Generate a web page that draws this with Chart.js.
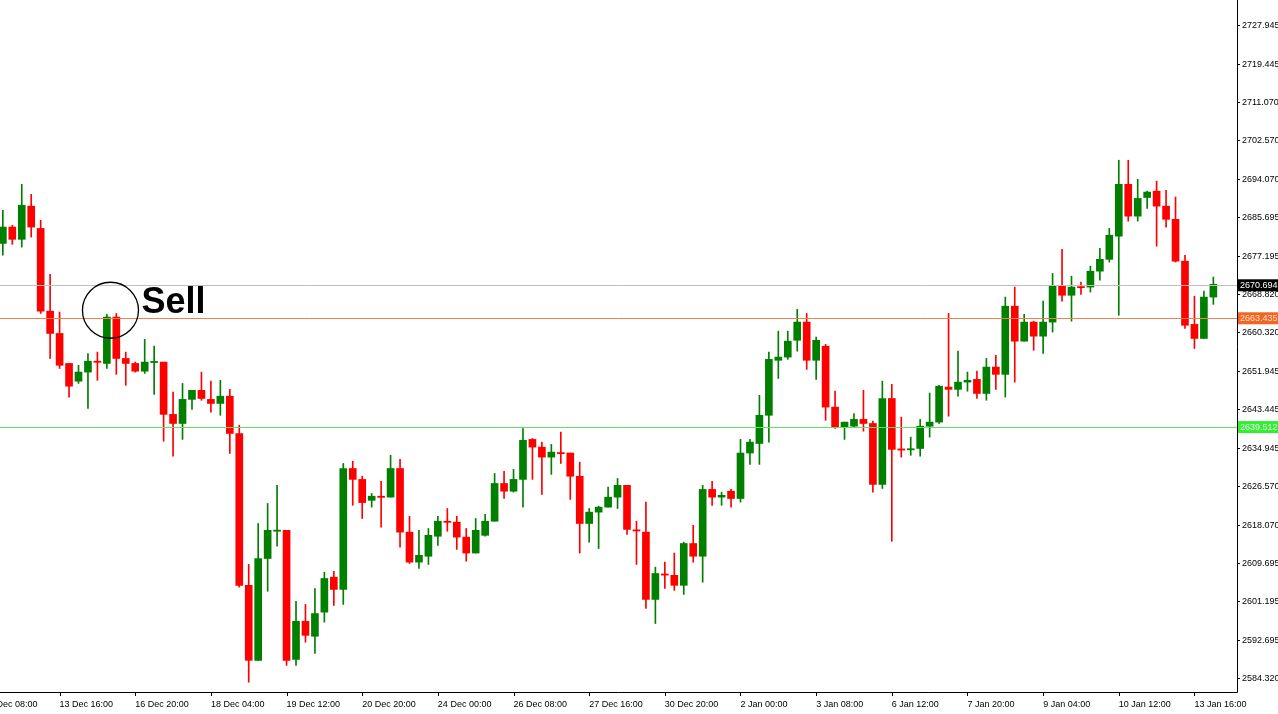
<!DOCTYPE html>
<html><head><meta charset="utf-8">
<script src="https://cdn.jsdelivr.net/npm/chart.js@4.4.0/dist/chart.umd.min.js"></script>
<style>html,body{margin:0;padding:0;background:#fff;overflow:hidden}canvas{display:block}</style>
</head><body>
<canvas id="c" width="1278" height="714"></canvas>
<script>
// Candle data (XAU/USD H4)
const opens  = [2679.9,2683.5,2680.8,2688.1,2683.2,2665.0,2660.1,2653.5,2649.6,2651.6,2654.0,2653.5,2663.7,2654.6,2653.5,2651.8,2653.7,2653.8,2642.3,2640.3,2645.6,2647.6,2645.6,2644.7,2646.3,2638.1,2604.7,2588.2,2610.6,2616.6,2616.8,2588.4,2596.8,2593.5,2598.8,2606.5,2603.8,2630.4,2628.0,2623.4,2624.3,2624.1,2630.4,2616.4,2609.8,2611.1,2615.5,2618.8,2618.6,2615.3,2611.8,2615.7,2618.8,2627.1,2625.4,2628.0,2636.8,2635.1,2632.9,2633.9,2633.8,2628.7,2618.3,2620.8,2621.9,2624.1,2626.7,2616.9,2616.4,2601.6,2607.2,2606.9,2604.7,2613.9,2611.1,2625.8,2624.1,2625.4,2623.8,2633.8,2635.9,2642.1,2654.2,2654.9,2658.6,2662.6,2654.2,2657.3,2643.9,2639.5,2639.7,2641.2,2640.3,2626.9,2645.8,2634.7,2634.5,2634.8,2639.7,2640.6,2648.3,2647.8,2649.4,2650.0,2646.9,2652.7,2651.1,2666.1,2658.4,2662.6,2659.5,2662.6,2670.5,2668.5,2670.4,2670.3,2673.8,2676.4,2681.5,2692.9,2685.9,2690.0,2691.4,2688.1,2685.2,2676.0,2662.1,2659.0,2668.1];
const highs  = [2687.2,2683.9,2692.9,2690.7,2685.0,2673.1,2664.8,2653.5,2653.1,2655.7,2656.0,2664.3,2664.5,2656.0,2653.8,2658.8,2657.3,2653.8,2647.2,2649.1,2647.6,2651.6,2649.6,2649.8,2647.8,2639.9,2609.3,2618.3,2622.7,2626.7,2616.8,2601.2,2600.5,2604.0,2607.6,2607.8,2631.5,2632.0,2628.7,2624.9,2627.6,2633.3,2632.4,2619.9,2616.8,2617.2,2619.9,2621.6,2619.9,2617.2,2619.4,2620.3,2629.3,2629.8,2630.2,2639.2,2637.0,2636.2,2635.7,2638.4,2633.8,2631.8,2621.6,2622.1,2626.3,2628.2,2626.7,2618.8,2623.0,2608.7,2609.8,2611.8,2614.2,2617.9,2626.7,2627.6,2625.2,2625.8,2636.8,2636.8,2646.5,2656.0,2660.6,2660.6,2665.4,2664.5,2659.3,2657.7,2647.4,2640.6,2642.5,2647.6,2640.8,2649.6,2648.9,2641.7,2637.3,2641.2,2647.0,2648.7,2664.5,2656.2,2651.6,2651.8,2654.6,2655.3,2668.1,2670.3,2664.3,2662.8,2667.2,2673.3,2678.6,2672.7,2671.4,2674.9,2678.8,2683.2,2698.2,2698.2,2694.0,2691.4,2693.6,2691.6,2690.1,2677.3,2668.3,2669.4,2672.5];
const lows   = [2677.3,2679.7,2679.1,2681.3,2664.5,2654.6,2652.4,2646.1,2649.1,2643.6,2649.8,2652.4,2651.1,2648.7,2651.6,2651.3,2646.7,2636.4,2633.1,2636.8,2643.4,2645.4,2642.8,2642.1,2633.7,2604.3,2583.4,2588.2,2603.4,2613.3,2587.1,2587.1,2592.2,2589.7,2596.6,2600.3,2600.5,2622.3,2619.4,2621.9,2617.5,2624.1,2613.1,2609.5,2608.4,2609.3,2613.5,2616.6,2612.6,2610.0,2611.8,2615.5,2618.8,2623.8,2625.2,2621.9,2628.0,2624.7,2629.1,2631.5,2623.6,2611.8,2614.2,2612.8,2621.9,2621.6,2615.9,2609.3,2599.6,2596.3,2604.0,2603.6,2602.7,2609.8,2605.4,2622.3,2622.3,2621.9,2623.0,2631.3,2631.3,2636.2,2650.2,2654.4,2656.2,2652.2,2650.0,2641.0,2639.2,2636.8,2639.5,2638.6,2625.2,2626.0,2614.4,2632.9,2633.3,2633.1,2637.3,2640.3,2641.9,2646.3,2647.4,2645.8,2645.4,2647.8,2646.1,2649.4,2658.4,2656.4,2655.7,2660.4,2667.2,2662.8,2668.7,2669.2,2671.8,2675.8,2664.1,2684.8,2684.8,2687.6,2679.3,2683.5,2675.8,2661.2,2656.8,2659.0,2666.5];
const closes = [2683.5,2680.8,2688.3,2683.5,2665.0,2660.1,2653.1,2648.5,2651.6,2654.0,2653.8,2663.7,2654.6,2653.5,2651.8,2653.8,2653.8,2642.3,2640.3,2645.6,2647.6,2645.8,2644.7,2646.3,2638.1,2604.7,2588.2,2610.6,2616.8,2616.8,2588.2,2596.8,2593.7,2598.5,2606.2,2603.8,2630.4,2628.0,2622.9,2624.3,2624.1,2630.4,2616.4,2609.8,2611.3,2615.7,2618.8,2618.6,2615.3,2611.8,2616.8,2618.8,2627.1,2625.4,2628.0,2636.6,2635.1,2632.9,2634.0,2633.8,2628.7,2618.3,2620.8,2621.9,2624.1,2626.7,2617.0,2616.8,2601.6,2607.3,2607.1,2604.7,2613.9,2611.1,2625.8,2624.1,2624.5,2623.8,2633.8,2636.2,2642.1,2654.4,2654.9,2658.4,2662.6,2654.2,2658.6,2643.9,2639.5,2640.6,2641.2,2640.3,2626.9,2645.8,2634.6,2634.6,2634.6,2639.7,2640.6,2648.5,2647.8,2649.4,2649.8,2646.9,2652.7,2651.1,2666.1,2658.4,2662.6,2659.5,2662.6,2670.5,2668.5,2670.3,2670.3,2673.8,2676.4,2681.7,2692.9,2685.9,2689.8,2691.2,2688.1,2685.2,2676.0,2661.9,2659.0,2668.1,2670.9];
const timeLabels = ["12 Dec 08:00","13 Dec 16:00","16 Dec 20:00","18 Dec 04:00","19 Dec 12:00","20 Dec 20:00","24 Dec 00:00","26 Dec 08:00","27 Dec 16:00","30 Dec 20:00","2 Jan 00:00","3 Jan 08:00","6 Jan 12:00","7 Jan 20:00","9 Jan 04:00","10 Jan 12:00","13 Jan 16:00"];
const timeLabelIndex = [-2,6,14,22,30,38,46,54,62,70,78,86,94,102,110,118,126];
const priceTicks = [2727.945,2719.445,2711.070,2702.570,2694.070,2685.695,2677.195,2668.820,2660.320,2651.945,2643.445,2634.945,2626.570,2618.070,2609.695,2601.195,2592.695,2584.320];
const levelLines = [
  {price:2670.694, line:'#c0c0c0', bg:'#000000', fg:'#ffffff'},
  {price:2663.435, line:'#f08050', bg:'#f26522', fg:'#ffe0d0'},
  {price:2639.512, line:'#66dd66', bg:'#33ee33', fg:'#e8ffe8'}
];
const sellMark = {index:11.38, price:2665.2, text:'Sell'};

const GREEN='#007f00', RED='#ff0000';
const colors = opens.map((o,i)=> closes[i]>=o ? GREEN : RED);
const bodies = opens.map((o,i)=>{let c=closes[i]; if(Math.abs(c-o)<0.25){c=o+(c>=o?0.25:-0.25);} return {x:i,y:[o,c]};});
const wicks = opens.map((o,i)=>({x:i,y:[lows[i],highs[i]]}));
const FONT='9px "Liberation Sans", Arial, sans-serif';

const overlay = {
  id:'overlay',
  afterDatasetsDraw(chart){
    const ctx=chart.ctx, xs=chart.scales.x, ys=chart.scales.y, a=chart.chartArea;
    ctx.save();
    levelLines.forEach(l=>{
      const y=Math.round(ys.getPixelForValue(l.price))+0.5;
      ctx.strokeStyle=l.line; ctx.lineWidth=1;
      ctx.beginPath(); ctx.moveTo(a.left,y); ctx.lineTo(a.right,y); ctx.stroke();
    });
    const cx=xs.getPixelForValue(sellMark.index), cy=ys.getPixelForValue(sellMark.price);
    ctx.strokeStyle='#000'; ctx.lineWidth=1.3;
    ctx.beginPath(); ctx.arc(cx,cy,28,0,Math.PI*2); ctx.stroke();
    ctx.fillStyle='#000'; ctx.font='bold 36px "Liberation Sans", Arial, sans-serif';
    ctx.textBaseline='alphabetic'; ctx.textAlign='left';
    ctx.fillText(sellMark.text, cx+31, cy+3);
    ctx.restore();
  },
  afterDraw(chart){
    const ctx=chart.ctx, xs=chart.scales.x, ys=chart.scales.y, a=chart.chartArea;
    ctx.save();
    ctx.strokeStyle='#000'; ctx.lineWidth=1;
    ctx.beginPath(); ctx.moveTo(a.right+0.5,0); ctx.lineTo(a.right+0.5,a.bottom+0.5); ctx.lineTo(0,a.bottom+0.5); ctx.stroke();
    ctx.font=FONT; ctx.textAlign='left'; ctx.textBaseline='middle'; ctx.fillStyle='#000';
    priceTicks.forEach(v=>{
      const y=Math.round(ys.getPixelForValue(v))+0.5;
      ctx.beginPath(); ctx.moveTo(a.right,y); ctx.lineTo(a.right+3,y); ctx.stroke();
      ctx.fillText(v.toFixed(3), a.right+5, y);
    });
    levelLines.forEach(l=>{
      const y=ys.getPixelForValue(l.price);
      ctx.fillStyle=l.bg; ctx.fillRect(a.right+1,y-6,60,12);
      ctx.fillStyle=l.fg; ctx.fillText(l.price.toFixed(3), a.right+3, y);
    });
    ctx.fillStyle='#000'; ctx.textBaseline='top';
    timeLabels.forEach((t,k)=>{
      const x=xs.getPixelForValue(timeLabelIndex[k]);
      ctx.fillText(t, x, a.bottom+8);
      ctx.beginPath(); ctx.moveTo(Math.round(x)+0.5,a.bottom); ctx.lineTo(Math.round(x)+0.5,a.bottom+4); ctx.stroke();
    });
    ctx.restore();
  }
};

new Chart(document.getElementById('c'),{
  type:'bar',
  data:{datasets:[
    {data:wicks, backgroundColor:colors, barThickness:1, grouped:false, order:2},
    {data:bodies, backgroundColor:colors, barThickness:7, grouped:false, order:1}
  ]},
  options:{
    responsive:false, animation:false, events:[],
    layout:{padding:0},
    plugins:{legend:{display:false}, tooltip:{enabled:false}},
    scales:{
      x:{type:'linear', min:-0.3, max:130.5, offset:false,
         grid:{display:false}, border:{display:false},
         ticks:{display:false},
         afterFit(s){s.height=22;}},
      y:{position:'right', min:2581.24, max:2733.44,
         grid:{display:false}, border:{display:false},
         ticks:{display:false},
         afterFit(s){s.width=41;}}
    }
  },
  plugins:[overlay]
});
</script>
</body></html>
